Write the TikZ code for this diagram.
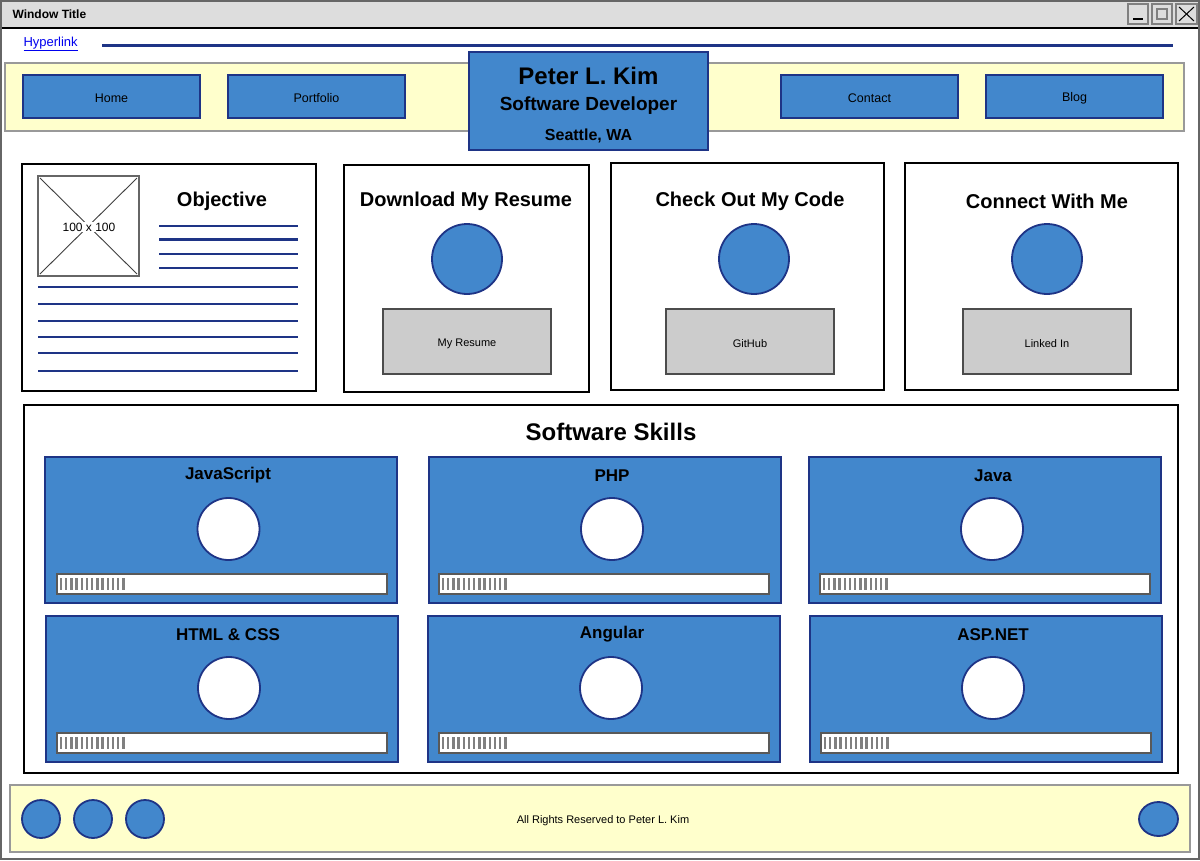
\documentclass[tikz,border=0pt]{standalone}
\usepackage{fontspec}
\setmainfont{Liberation Sans}
\usetikzlibrary{calc}
\definecolor{navy}{RGB}{30,52,134}
\definecolor{skyblue}{RGB}{66,135,204}
\definecolor{paleyellow}{RGB}{255,255,204}
\definecolor{btngray}{RGB}{204,204,204}
\definecolor{titlegray}{RGB}{221,221,221}
\definecolor{linkblue}{RGB}{0,0,238}
\tikzset{
	navbtn/.style={draw=navy, fill=skyblue, line width=2.2pt},
	navlabel/.style={font=\fontsize{12.5}{14}\selectfont, yshift=-1pt},
	card/.style={draw=black, line width=1.4pt},
	cardtitle/.style={font=\fontsize{20}{24}\selectfont\bfseries},
	carddot/.style={circle, draw=navy, fill=skyblue, line width=1.8pt, minimum size=70pt, inner sep=0pt},
	grayclick/.style={draw=black!70, fill=btngray, line width=1.6pt},
	smalltext/.style={font=\fontsize{11}{13}\selectfont, yshift=-1.5pt},
	textline/.style={draw=navy, line width=2.6pt},
	skillbox/.style={draw=navy, fill=skyblue, line width=2.2pt},
	skilltitle/.style={font=\fontsize{17}{20}\selectfont\bfseries, yshift=-1.5pt},
	skilldot/.style={circle, draw=navy, fill=white, line width=1.8pt, minimum size=62pt, inner sep=0pt},
	footdot/.style={circle, draw=navy, fill=skyblue, line width=1.8pt, minimum size=38pt, inner sep=0pt}
}
\def\skillbar(#1,#2){%
	\draw[fill=white, draw=black!65, line width=1.6pt] (#1,#2) rectangle ++(330,20);
	\foreach \t in {0,...,12}
		\draw[line width=2.4pt, color=black!50] ({#1+4+5.2*\t},{#2+4}) -- ++(0,12);
}

\begin{document}
\begin{tikzpicture}[x=1pt, y=-1pt]
			%%%%% WINDOW %%%%%
			\useasboundingbox (0,0) rectangle (1200,860);
			\fill[white] (0,0) rectangle (1200,860);
			
			\draw[fill=titlegray, draw=none] (1,1) rectangle (1199,28);
			\draw[line width=1.5pt] (1,28) -- (1199,28);
			\draw[line width=2pt, color=black!60] (1,1) rectangle (1199,859);
			\node[anchor=west, font=\fontsize{12}{14}\selectfont\bfseries] (wintitle) at (9,14.5) {Window Title};
			
			\draw[line width=2pt, color=black!50] (1128,4) rectangle (1148,24);
			\draw[line width=1.5pt] (1133,19) -- (1143,19);
			\draw[line width=2pt, color=black!50] (1152,4) rectangle (1172,24);
			\draw[line width=2pt, color=black!50] (1157,9) rectangle (1167,19);
			\draw[line width=2pt, color=black!50] (1176,4) rectangle (1197,24);
			\draw[line width=1pt] (1179,7) -- (1194,21);
			\draw[line width=1pt] (1194,7) -- (1179,21);
			
			\node[anchor=west, text=linkblue, font=\fontsize{13}{15}\selectfont] (link) at (20,44) {\underline{Hyperlink}};
			\draw[textline] (102,45.5) -- (1173,45.5);
			
			%%%%% NAV BAR %%%%%
			\draw[fill=paleyellow, draw=black!40, line width=1.5pt] (5,63) rectangle (1184,131);
			
			\draw[navbtn] (23,75) rectangle (200,118);
			\node[navlabel] (home) at (111.5,97) {Home};
			\draw[navbtn] (228,75) rectangle (405,118);
			\node[navlabel] (portfolio) at (316.5,97) {Portfolio};
			\draw[navbtn] (781,75) rectangle (958,118);
			\node[navlabel] (contact) at (869.5,97) {Contact};
			\draw[navbtn] (986,75) rectangle (1163,118);
			\node[navlabel] (blog) at (1074.5,97) {Blog};
			
			\draw[navbtn] (469,52) rectangle (708,150);
			\node[font=\fontsize{24}{28}\selectfont\bfseries] (name) at (588.5,76) {Peter L. Kim};
			\node[font=\fontsize{19}{22}\selectfont\bfseries] (job) at (588.5,106) {Software Developer};
			\node[font=\fontsize{16}{19}\selectfont\bfseries] (city) at (588.5,136) {Seattle, WA};
			
			%%%%% CARDS %%%%%
			\draw[card] (22,164) rectangle (316,391);
			\draw[line width=2pt, color=black!60] (38,176) rectangle (139,276);
			\draw[line width=0.9pt, color=black!75] (40,178) -- (137,274);
			\draw[line width=0.9pt, color=black!75] (137,178) -- (40,274);
			\node[fill=white, inner sep=1pt, font=\fontsize{12}{14}\selectfont] (imgsize) at (89,227) {100 x 100};
			\node[cardtitle] (objective) at (222,201) {Objective};
			
			\draw[textline] (159,226) -- (298,226);
			\draw[textline] (159,239.5) -- (298,239.5);
			\draw[textline] (159,254) -- (298,254);
			\draw[textline] (159,268) -- (298,268);
			\draw[textline] (38,287) -- (298,287);
			\draw[textline] (38,304) -- (298,304);
			\draw[textline] (38,321) -- (298,321);
			\draw[textline] (38,337) -- (298,337);
			\draw[textline] (38,353) -- (298,353);
			\draw[textline] (38,371) -- (298,371);
			
			\draw[card] (344,165) rectangle (589,392);
			\node[cardtitle] (resumetitle) at (466,201) {Download My Resume};
			\node[carddot] (resumedot) at (467,259) {};
			\draw[grayclick] (383,309) rectangle (551,374);
			\node[smalltext] (resume) at (467,342) {My Resume};
			
			\draw[card] (611,163) rectangle (884,390);
			\node[cardtitle] (codetitle) at (750,201) {Check Out My Code};
			\node[carddot] (codedot) at (754,259) {};
			\draw[grayclick] (666,309) rectangle (834,374);
			\node[smalltext] (github) at (750,342) {GitHub};
			
			\draw[card] (905,163) rectangle (1178,390);
			\node[cardtitle] (connecttitle) at (1047,201) {Connect With Me};
			\node[carddot] (connectdot) at (1047,259) {};
			\draw[grayclick] (963,309) rectangle (1131,374);
			\node[smalltext] (linkedin) at (1047,342) {Linked In};
			
			%%%%% SKILLS %%%%%
			\draw[card] (24,405) rectangle (1178,773);
			\node[font=\fontsize{24}{28}\selectfont\bfseries] (skills) at (611,432) {Software Skills};
			
			\draw[skillbox] (45,457) rectangle (397,603);
			\node[skilltitle] (js) at (228,474) {JavaScript};
			\node[skilldot] (jsdot) at (228.5,529) {};
			\skillbar(57,574)
			
			\draw[skillbox] (429,457) rectangle (781,603);
			\node[skilltitle] (php) at (612,474) {PHP};
			\node[skilldot] (phpdot) at (612,529) {};
			\skillbar(439,574)
			
			\draw[skillbox] (809,457) rectangle (1161,603);
			\node[skilltitle] (java) at (993,474) {Java};
			\node[skilldot] (javadot) at (992,529) {};
			\skillbar(820,574)
			
			\draw[skillbox] (46,616) rectangle (398,762);
			\node[skilltitle] (html) at (228,633) {HTML \& CSS};
			\node[skilldot] (htmldot) at (229,688) {};
			\skillbar(57,733)
			
			\draw[skillbox] (428,616) rectangle (780,762);
			\node[skilltitle] (angular) at (612,633) {Angular};
			\node[skilldot] (angulardot) at (611,688) {};
			\skillbar(439,733)
			
			\draw[skillbox] (810,616) rectangle (1162,762);
			\node[skilltitle] (asp) at (993,633) {ASP.NET};
			\node[skilldot] (aspdot) at (993,688) {};
			\skillbar(821,733)
			
			%%%%% FOOTER %%%%%
			\draw[fill=paleyellow, draw=black!40, line width=1.5pt] (10,785) rectangle (1190,852);
			\node[footdot] (fb) at (41,819) {};
			\node[footdot] (tw) at (93,819) {};
			\node[footdot] (ig) at (145,819) {};
			\draw[fill=skyblue, draw=navy, line width=1.8pt] (1158.5,819) ellipse (19.5 and 17);
			\node[smalltext] (rights) at (603,819) {All Rights Reserved to Peter L. Kim};
			
			%%%%% END %%%%%
\end{tikzpicture}
\end{document}
